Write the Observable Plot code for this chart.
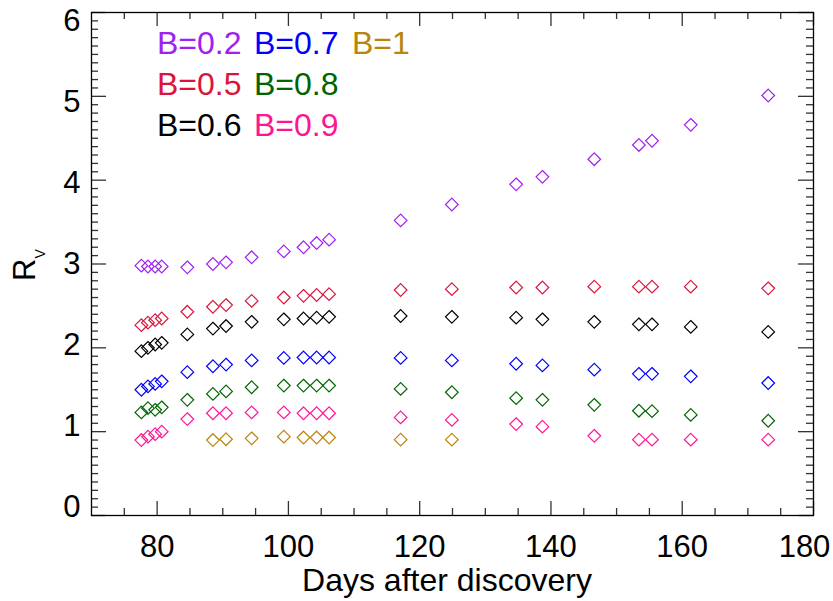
<!DOCTYPE html>
<html><head><meta charset="utf-8">
<script src="https://cdn.jsdelivr.net/npm/d3@7"></script>
<script src="https://cdn.jsdelivr.net/npm/@observablehq/plot@0.6"></script>
<style>
body{margin:0;background:#fff;}
#wrap{position:relative;width:833px;height:601px;}
</style></head><body><div id="wrap"></div>
<script>
const days = [77.6,78.6,79.7,80.7,84.6,88.5,90.5,94.4,99.3,102.3,104.3,106.2,117.1,124.9,134.7,138.7,146.6,153.4,155.4,161.3,173.1];
const rvB02 = [2.98,2.97,2.97,2.97,2.96,3.00,3.02,3.08,3.15,3.20,3.25,3.29,3.52,3.71,3.95,4.04,4.25,4.42,4.47,4.66,5.01];
const rvB05 = [2.27,2.30,2.33,2.35,2.43,2.49,2.51,2.56,2.60,2.62,2.63,2.64,2.69,2.70,2.72,2.72,2.73,2.73,2.73,2.73,2.71];
const rvB06 = [1.96,2.00,2.04,2.06,2.16,2.23,2.26,2.31,2.34,2.35,2.36,2.37,2.38,2.37,2.36,2.34,2.31,2.28,2.28,2.25,2.19];
const rvB07 = [1.50,1.54,1.57,1.60,1.71,1.78,1.80,1.85,1.88,1.885,1.885,1.885,1.88,1.85,1.81,1.79,1.74,1.69,1.69,1.66,1.58];
const rvB08 = [1.23,1.28,1.26,1.29,1.38,1.45,1.48,1.53,1.55,1.55,1.55,1.55,1.51,1.47,1.40,1.38,1.32,1.25,1.245,1.20,1.13];
const rvB09 = [0.90,0.94,0.97,1.00,1.15,1.22,1.22,1.23,1.23,1.22,1.22,1.22,1.17,1.14,1.09,1.06,0.95,0.905,0.905,0.905,0.905];
const rvB1  = [null,null,null,null,null,0.90,0.91,0.92,0.94,0.93,0.93,0.93,0.905,0.905,null,null,null,null,null,null,null];

const seriesNames = ["B=0.2","B=0.5","B=0.6","B=0.7","B=0.8","B=0.9","B=1"];
const seriesValues = [rvB02,rvB05,rvB06,rvB07,rvB08,rvB09,rvB1];
const seriesColors = ["#A020F0","#DC143C","#000000","#0000FF","#006400","#FF1493","#B8860B"];

const legendLabels = [["B=0.2","B=0.7","B=1"],["B=0.5","B=0.8"],["B=0.6","B=0.9"]];

const xMajor = [80,100,120,140,160,180];
const xMinor = d3.range(75,180,5).filter(v => v % 20 !== 0);
const yMajor = [0,1,2,3,4,5,6];
const yMinor = d3.range(1,60).filter(i => i % 10 !== 0).map(i => i/10);

const rows = [];
seriesNames.forEach((name,si) => {
  seriesValues[si].forEach((v,i) => { if (v != null) rows.push({day: days[i], rv: v, series: name}); });
});

const W = 833, H = 601, mL = 91, mR = 20, mT = 12, mB = 86;
const fw = W - mL - mR, fh = H - mT - mB;
const tickCol = "#333";
const font = "'Liberation Sans', Arial, sans-serif";

const chart = Plot.plot({
  width: W, height: H,
  marginLeft: mL, marginRight: mR, marginTop: mT, marginBottom: mB,
  style: {fontFamily: font, fontSize: "31px", background: "white", color: "black"},
  x: {domain: [70,180], axis: null},
  y: {domain: [0,6], axis: null},
  color: {domain: seriesNames, range: seriesColors},
  marks: [
    // inward ticks on all four sides
    Plot.tickX(xMajor, {x: d => d, insetTop: fh - 14, stroke: tickCol, strokeWidth: 1.3}),
    Plot.tickX(xMajor, {x: d => d, insetBottom: fh - 14, stroke: tickCol, strokeWidth: 1.3}),
    Plot.tickX(xMinor, {x: d => d, insetTop: fh - 7, stroke: tickCol, strokeWidth: 1.3}),
    Plot.tickX(xMinor, {x: d => d, insetBottom: fh - 7, stroke: tickCol, strokeWidth: 1.3}),
    Plot.tickY(yMajor, {y: d => d, insetRight: fw - 15, stroke: tickCol, strokeWidth: 1.3}),
    Plot.tickY(yMajor, {y: d => d, insetLeft: fw - 15, stroke: tickCol, strokeWidth: 1.3}),
    Plot.tickY(yMinor, {y: d => d, insetRight: fw - 7, stroke: tickCol, strokeWidth: 1.3}),
    Plot.tickY(yMinor, {y: d => d, insetLeft: fw - 7, stroke: tickCol, strokeWidth: 1.3}),
    Plot.axisX(xMajor.slice(0, -1), {tickSize: 0, tickPadding: 19, label: null, fontSize: 31, tickFormat: d => String(d)}),
    Plot.axisX(xMajor.slice(-1), {tickSize: 0, tickPadding: 19, label: null, fontSize: 31, dx: -9, tickFormat: d => String(d)}),
    // y tick labels (IDL places them slightly compressed toward the middle)
    Plot.text(yMajor, {y: d => 3 + (d - 3) * 0.967, text: d => String(d), frameAnchor: "left", dx: -11, textAnchor: "end", fontSize: 31}),
    Plot.frame({stroke: "black", strokeWidth: 1.3}),
    Plot.dot(rows, {x: "day", y: "rv", stroke: "series", symbol: "diamond2", r: 5.7, strokeWidth: 1.2, fill: "none"})
  ]
});
document.getElementById("wrap").appendChild(chart);

const svg = d3.select(chart);
// y axis label with subscript
const yl = svg.append("text")
  .attr("transform", "translate(35,281) rotate(-90)")
  .attr("font-size", 31).attr("fill", "black").attr("text-anchor", "start");
yl.append("tspan").text("R");
yl.append("tspan").attr("font-size", 14).attr("dy", 10).text("V");
// x axis label
svg.append("text").attr("x", 447).attr("y", 591).attr("text-anchor", "middle")
  .attr("font-size", 32).attr("fill", "black").text("Days after discovery");
// legend
const colX = [157, 254, 352];
const rowY = [54, 95, 136];
legendLabels.forEach((row, ri) => row.forEach((lab, ci) => {
  svg.append("text").attr("x", colX[ci]).attr("y", rowY[ri]).attr("font-size", 32)
    .attr("text-anchor", "start")
    .attr("fill", seriesColors[seriesNames.indexOf(lab)]).text(lab);
}));
</script></body></html>
